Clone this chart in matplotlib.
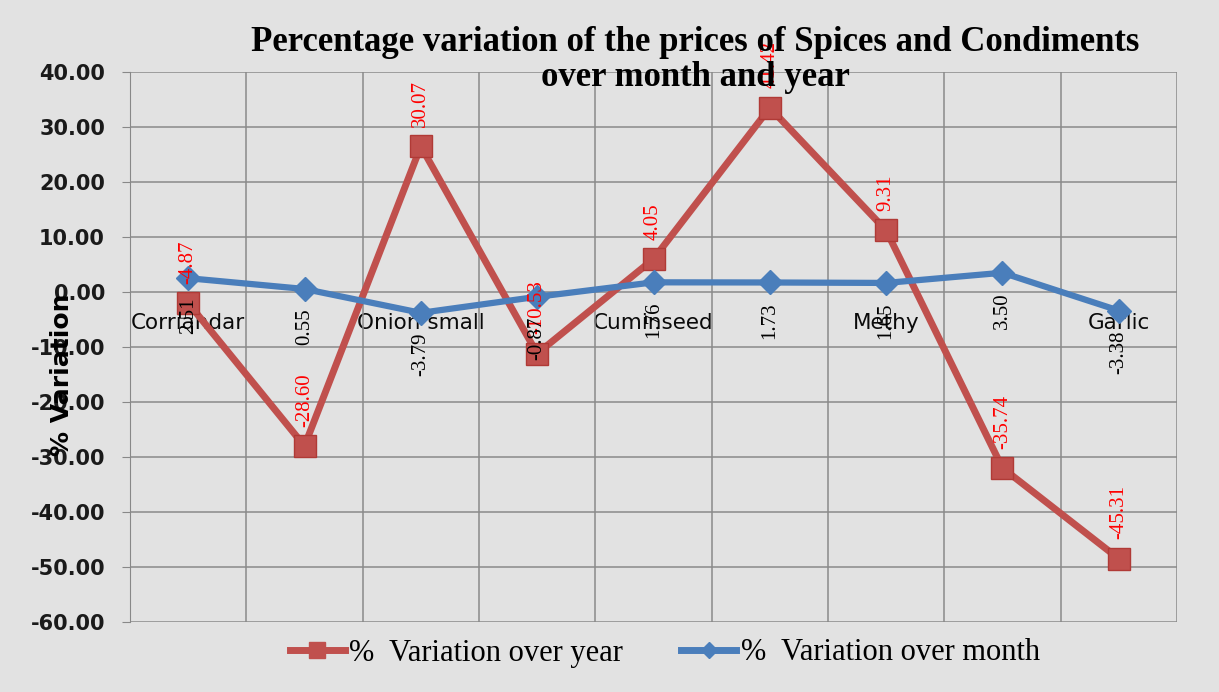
import matplotlib
matplotlib.use("Agg")
import matplotlib.pyplot as plt
from matplotlib.lines import Line2D
import numpy as np

# ---- data ----
categories = ["Corriandar", "", "Onion small", "", "Cuminseed", "", "Methy", "", "Garlic"]
year_values = [-2.0, -28.0, 26.5, -11.2, 6.0, 33.5, 11.2, -32.0, -48.5]
year_labels = ["-4.87", "-28.60", "30.07", "-10.53", "4.05", "41.42", "9.31", "-35.74", "-45.31"]
month_values = [2.51, 0.55, -3.79, -0.87, 1.76, 1.73, 1.65, 3.50, -3.38]
month_labels = ["2.51", "0.55", "-3.79", "-0.87", "1.76", "1.73", "1.65", "3.50", "-3.38"]
y_ticks = [-60, -50, -40, -30, -20, -10, 0, 10, 20, 30, 40]

title = "Percentage variation of the prices of Spices and Condiments\nover month and year"
ylabel = "% Variation"
year_name = "%  Variation over year"
month_name = "%  Variation over month"

RED = "#C0504D"
BLUE = "#4A7EBB"
BG = "#e2e2e2"

W, H = 1219, 692
fig = plt.figure(figsize=(W / 100, H / 100), dpi=100, facecolor=BG)
ax = fig.add_axes([130 / W, 1 - 622 / H, (1177 - 130) / W, (622 - 72) / H])
ax.set_facecolor(BG)

x = np.arange(len(categories))

ax.plot(x, year_values, color=RED, lw=5, marker="s", ms=16, mfc=RED, mec="#B03A36",
        zorder=3)
ax.plot(x, month_values, color=BLUE, lw=4.5, marker="D", ms=12, mfc=BLUE, mec=BLUE,
        zorder=4)

serif = "Liberation Serif"
for xi, yv, lab in zip(x, year_values, year_labels):
    ax.annotate(lab, (xi, yv), xytext=(0, 14), textcoords="offset points",
                rotation=90, ha="center", va="bottom", color="#ff0000",
                fontsize=15, family=serif, zorder=6)
for xi, yv, lab in zip(x, month_values, month_labels):
    ax.annotate(lab, (xi, yv), xytext=(0, -14), textcoords="offset points",
                rotation=90, ha="center", va="top", color="black",
                fontsize=15, family=serif, zorder=6)

ax.spines["bottom"].set_position(("data", 0))
for s in ["top", "right", "bottom"]:
    ax.spines[s].set_visible(False)
ax.spines["left"].set_color("#888888")

ax.set_xlim(-0.5, len(categories) - 0.5)
ax.set_ylim(-60, 40)
ax.set_yticks(y_ticks)
ax.set_yticklabels([f"{v:.2f}" for v in y_ticks])
ax.set_xticks(x)
ax.set_xticklabels(categories)
ax.set_xticks(np.arange(-0.5, len(categories)), minor=True)
ax.tick_params(axis="x", which="both", length=0, pad=15, labelsize=15.5,
               labelcolor="#0a0a0a")
ax.tick_params(axis="y", length=6, color="#888888", pad=12, labelsize=15,
               labelcolor="#1a1a1a")
for t in ax.get_yticklabels():
    t.set_fontweight("bold")

ax.grid(axis="y", color="#8a8a8a", lw=1.1)
ax.grid(axis="x", which="minor", color="#8a8a8a", lw=1.1)
ax.grid(axis="x", which="major", visible=False)
ax.set_axisbelow(True)

fig.text(62 / W, 1 - 375 / H, ylabel, rotation=90, ha="center", va="center",
         fontsize=18, fontweight="bold")

fig.text(695 / W, 1 - 60 / H, title, ha="center", va="center", fontsize=25,
         fontweight="bold", family=serif, linespacing=1.1, zorder=10)

handles = [Line2D([], [], color=RED, lw=5, marker="s", ms=12, mfc=RED, mec=RED),
           Line2D([], [], color=BLUE, lw=5, marker="D", ms=8, mfc=BLUE, mec=BLUE)]
fig.legend(handles, [year_name, month_name], loc="center", bbox_to_anchor=(665 / W, 1 - 653 / H),
           ncol=2, frameon=False, prop={"family": serif, "size": 22},
           handlelength=1.8, handletextpad=0.15, columnspacing=1.9)

fig.savefig("out.png", dpi=100, facecolor=BG)
